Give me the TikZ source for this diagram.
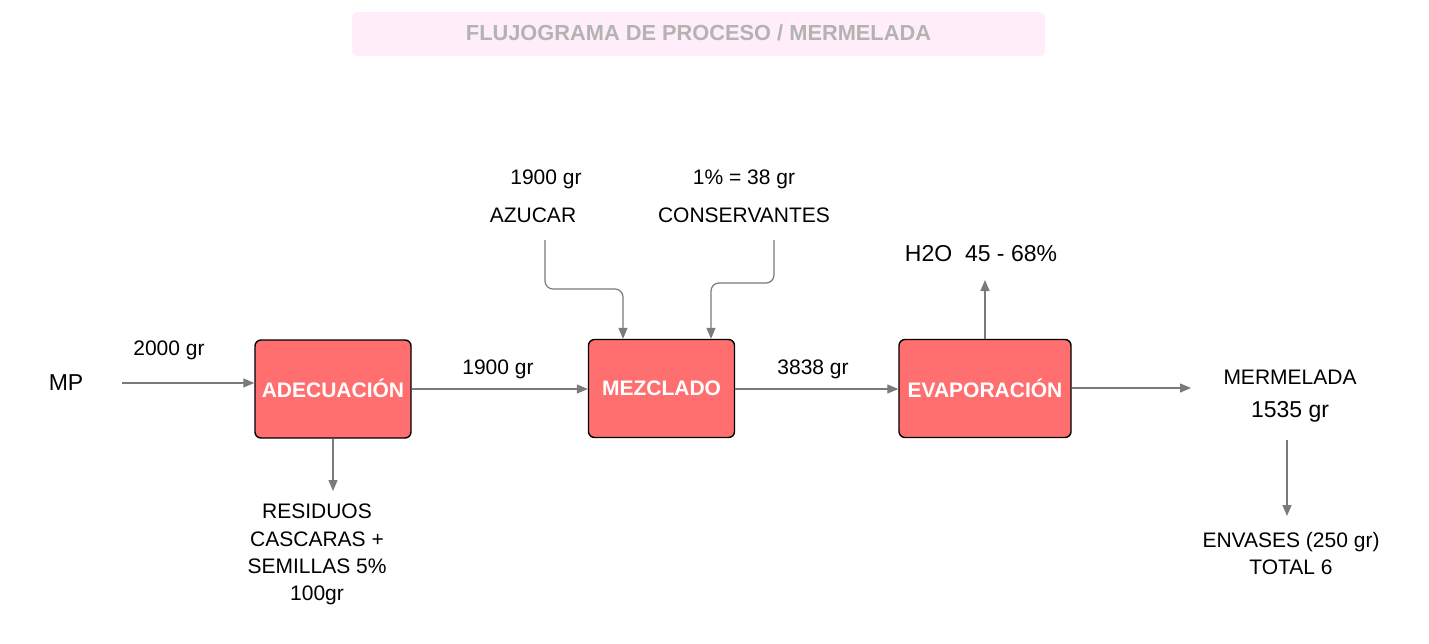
\documentclass[tikz,border=0pt]{standalone}
\usepackage{fontspec}
\setmainfont{Liberation Sans}
\usetikzlibrary{arrows.meta}
\definecolor{boxfill}{HTML}{FF6F6F}
\definecolor{linegray}{HTML}{7A7A7A}
\definecolor{titlefill}{HTML}{FFEEF9}
\definecolor{titletext}{HTML}{B3B3B3}
\tikzset{
  procbox/.style={draw=black, line width=1.4pt, fill=boxfill, rounded corners=6pt,
    text=white, font=\fontsize{21}{24}\selectfont\bfseries, inner sep=0pt},
  lbl/.style={font=\fontsize{21}{27.3}\selectfont, inner sep=0pt, align=center},
  biglbl/.style={font=\fontsize{23}{27}\selectfont, inner sep=0pt, align=center},
  flow/.style={draw=linegray, line width=1.2pt, -{Triangle[length=11pt,width=9pt]}},
}
\begin{document}
\begin{tikzpicture}[x=1pt,y=-1pt]
\useasboundingbox (0,0) rectangle (1429,643);
% title
\node[fill=titlefill, rounded corners=5pt, minimum width=693pt, minimum height=44pt,
  inner sep=0pt, text=titletext, font=\fontsize{21.8}{25}\selectfont\bfseries]
  (title) at (698.5,34) {\raisebox{3.5pt}{FLUJOGRAMA DE PROCESO / MERMELADA}};
% process boxes
\node[procbox, minimum width=156pt, minimum height=98pt] (ade) at (333,389) {\raisebox{1.5pt}{ADECUACIÓN}};
\node[procbox, minimum width=146pt, minimum height=98pt] (mez) at (661.5,388.5) {MEZCLADO};
\node[procbox, minimum width=172pt, minimum height=98pt] (eva) at (985,388.5) {\raisebox{1.5pt}{EVAPORACIÓN}};
% texts
\node[biglbl] (mp) at (66,383) {MP};
\node[lbl] (l2000) at (169,350) {2000 gr};
\node[lbl] (l1900) at (498,369) {1900 gr};
\node[lbl] (l3838) at (813,369) {3838 gr};
\node[lbl] (az1) at (546,179) {1900 gr};
\node[lbl] (az) at (533,215) {AZUCAR};
\node[lbl] (co1) at (744,179) {1\% = 38 gr};
\node[lbl] (co) at (744,215) {CONSERVANTES};
\node[biglbl] (h2o) at (981,254) {H2O\ \ 45 - 68\%};
\node[lbl] (mer) at (1290,377) {MERMELADA};
\node[biglbl] (m1535) at (1290,412) {1535 gr};
\node[lbl, anchor=north] (res) at (317,504) {RESIDUOS\\CASCARAS +\\SEMILLAS 5\%\\100gr};
\node[lbl, anchor=north] (env) at (1291,532) {ENVASES (250 gr)\\TOTAL 6};
% connectors
\coordinate (mpstart) at (122,383);
\draw[flow] (mpstart) -- (mpstart -| ade.west);
\draw[flow] (ade.east |- 0,389) -- (mez.west |- 0,389);
\draw[flow] (mez.east |- 0,389) -- (eva.west |- 0,389);
\coordinate (outend) at (1191,388);
\draw[flow] (eva.east |- outend) -- (outend);
\coordinate (h2oend) at (985,280);
\draw[flow] (eva.north) -- (h2oend);
\coordinate (resend) at (333,491);
\draw[flow] (ade.south) -- (resend);
\coordinate (envstart) at (1287,440);
\coordinate (envend) at (1287,516);
\draw[flow] (envstart) -- (envend);
\coordinate (azstart) at (545,240);
\draw[flow, rounded corners=8pt] (azstart) -- (545,289) -- (623,289) -- (623,339) -- (mez.north -| 623,0);
\coordinate (costart) at (774,240);
\draw[flow, rounded corners=8pt] (costart) -- (774,283) -- (711,283) -- (mez.north -| 711,0);
\end{tikzpicture}
\end{document}
